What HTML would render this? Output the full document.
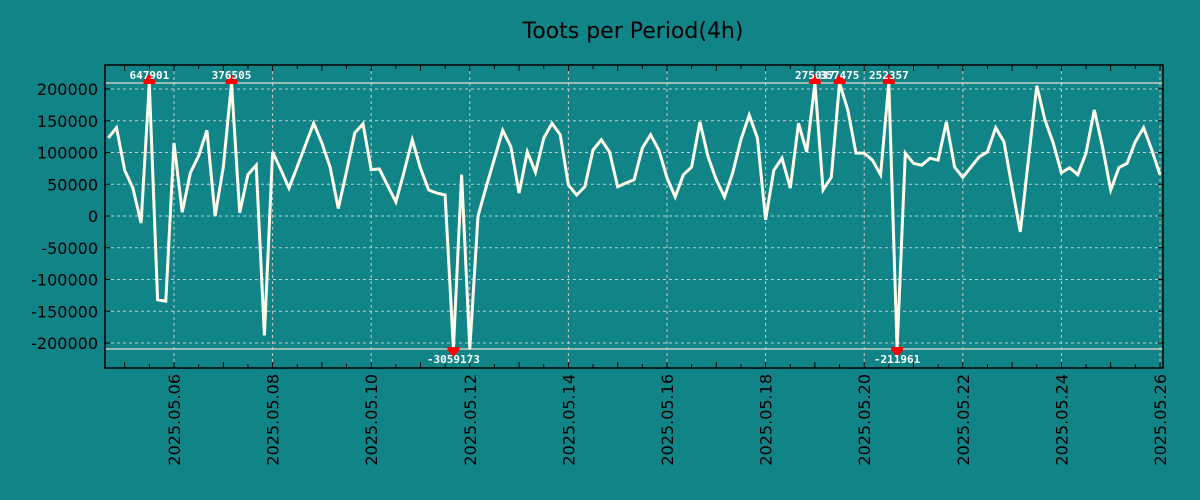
<!DOCTYPE html>
<html><head><meta charset="utf-8"><style>
html,body{margin:0;padding:0;background:#118488;}
svg{display:block;font-family:"DejaVu Sans","Liberation Sans",sans-serif;}
</style></head><body>
<svg id="chart" width="1200" height="500" xmlns="http://www.w3.org/2000/svg">
<rect width="1200" height="500" fill="#118488"/>
<text x="633" y="38" font-size="22" text-anchor="middle" fill="#000">Toots per Period(4h)</text>
<g id="grid"></g>
<g id="yaxis"></g>
<g id="xaxis"></g>
<g id="series"></g>
<g id="markers"></g>
<rect x="105" y="65" width="1058" height="303" fill="none" stroke="#000" stroke-width="1.5"/>
</svg>
<script>
const startTime = Date.UTC(2025,4,4,16);
const stepHours = 4;
const values = [123000,139000,72000,44000,-11000,647901,-132000,-134000,115000,6000,
68000,95000,135000,0,77000,376505,5000,65000,80000,-188000,
101000,73000,44000,78000,112000,146000,115000,77000,12000,70000,
131000,145000,73000,74000,48000,22000,70000,120000,75000,41000,
36000,33000,-3059173,65000,-230000,0,46000,90000,135000,109000,
36000,101000,69000,123000,146000,128000,49000,33000,46000,104000,
120000,101000,46000,52000,57000,107000,128000,104000,60000,30000,
65000,77000,148000,93000,57000,30000,68000,120000,159000,123000,
-6000,72000,91000,44000,146000,101000,275037,41000,61000,357475,
167000,99000,99000,88000,65000,252357,-211961,99000,83000,80000,
91000,88000,148000,77000,61000,77000,93000,101000,139000,117000,
45000,-25000,90000,205000,151000,115000,68000,76000,65000,99000,
167000,109000,41000,76000,83000,117000,139000,104000,65000];
const yTicks = [-200000,-150000,-100000,-50000,0,50000,100000,150000,200000];
const xTickLabels = ["2025.05.06","2025.05.08","2025.05.10","2025.05.12","2025.05.14","2025.05.16","2025.05.18","2025.05.20","2025.05.22","2025.05.24","2025.05.26"];
const clipMax = 209500, clipMin = -209500;

const NS="http://www.w3.org/2000/svg";
const X0=105,X1=1163,Y0=65,Y1=368;
const refDay=Date.UTC(2025,4,6), pxDay=49.3, refX=174;
function xs(t){return refX+(t-refDay)/86400000*pxDay;}
function ys(v){return 216-v*0.000635;}
function mk(tag,attrs,parent){const e=document.createElementNS(NS,tag);for(const k in attrs)e.setAttribute(k,attrs[k]);parent.appendChild(e);return e;}
const grid=document.getElementById('grid'),ya=document.getElementById('yaxis'),xa=document.getElementById('xaxis');

yTicks.forEach(v=>{
  const y=ys(v);
  const g=mk('line',{x1:X0,x2:X1,y1:y,y2:y,stroke:'#c8c8c8','stroke-width':1,'stroke-dasharray':'3,3'},grid);
  
  
  mk('line',{x1:X0,x2:X0+5,y1:y,y2:y,stroke:'#000'},ya);
  mk('line',{x1:X1-5,x2:X1,y1:y,y2:y,stroke:'#000'},ya);
  const t=mk('text',{x:98,y:y+6,'font-size':16,'text-anchor':'end',fill:'#000'},ya);
  t.textContent=v;
  
  
});
xTickLabels.forEach(s=>{
  const p=s.split('.');
  const x=xs(Date.UTC(+p[0],+p[1]-1,+p[2]));
  const g=mk('line',{x1:x,x2:x,y1:Y0,y2:Y1,stroke:'#c8c8c8','stroke-width':1,'stroke-dasharray':'3,3'},grid);
  
  
  const t=mk('text',{x:0,y:0,'font-size':16,'text-anchor':'end',fill:'#000',transform:`translate(${x+6},${Y1+6}) rotate(-90)`},xa);
  t.textContent=s;
  
  
});
for(let d=-3;d<=42;d++){
  const x=refX+d*pxDay/2;
  if(x<X0||x>X1)continue;
  const L=d%2===0?6:4;
  mk('line',{x1:x,x2:x,y1:Y1,y2:Y1-L,stroke:'#000'},xa);
  mk('line',{x1:x,x2:x,y1:Y0,y2:Y0+L,stroke:'#000'},xa);
}
[clipMax,clipMin].forEach(v=>{
  const l=mk('line',{x1:X0,x2:X1,y1:ys(v),y2:ys(v),stroke:'#e8e0d0','stroke-width':1.3},grid);
  
  
});
const cp=mk('clipPath',{id:'pc'},document.getElementById('chart'));
mk('rect',{x:X0,y:Y0,width:X1-X0,height:Y1-Y0},cp);
const pts=values.map((v,i)=>{const t=startTime+i*stepHours*3600000;return [xs(t),ys(Math.max(clipMin,Math.min(clipMax,v)))];});
const line=mk('polyline',{points:pts.map(p=>p[0].toFixed(1)+','+p[1].toFixed(1)).join(' '),fill:'none',stroke:'#fffbea','stroke-width':3,'stroke-linejoin':'miter','clip-path':'url(#pc)'},document.getElementById('series'));


const mg=document.getElementById('markers');
values.forEach((v,i)=>{
  const x=pts[i][0];
  if(v>clipMax){
    const y=ys(clipMax);
    const m=mk('path',{d:`M${x-6},${y+1}h12v-3l-6,-7l-6,7z`,fill:'#f00'},mg);
    
    
    const t=mk('text',{x:x,y:y-4,'font-size':11,'font-weight':'bold','text-anchor':'middle',fill:'#fff','font-family':'"DejaVu Sans Mono","Liberation Mono",monospace'},mg);
    t.textContent=v;
    
    
  } else if(v<clipMin && v<-211000){
    const y=ys(clipMin);
    if(v===-230000)return;
    const m=mk('path',{d:`M${x-6},${y-2}h12v3l-6,7l-6,-7z`,fill:'#f00'},mg);
    
    
    const t=mk('text',{x:x,y:y+14,'font-size':11,'font-weight':'bold','text-anchor':'middle',fill:'#fff','font-family':'"DejaVu Sans Mono","Liberation Mono",monospace'},mg);
    t.textContent=v;
    
    
  }
});
</script>
</body></html>
